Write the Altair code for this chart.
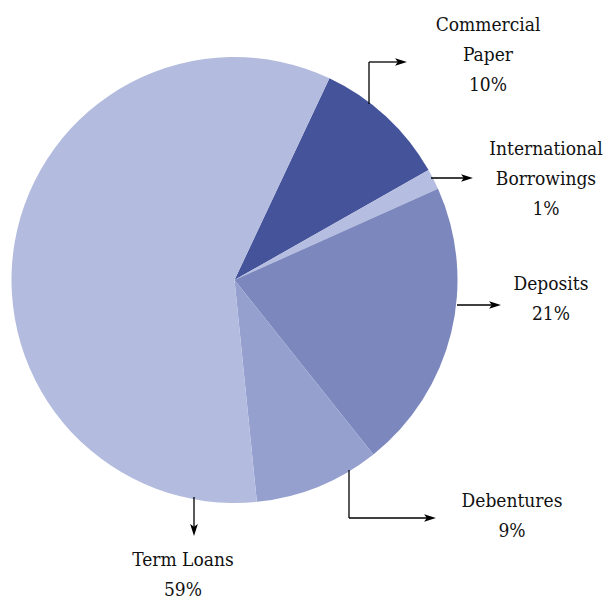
import altair as alt
import pandas as pd
import math

# ---- data ----
categories = ["Commercial Paper", "International Borrowings", "Deposits", "Debentures", "Term Loans"]
shares = [9.8, 1.5, 21.0, 9.1, 58.6]
pct_labels = ["10%", "1%", "21%", "9%", "59%"]
label_lines = ["Commercial\nPaper", "International\nBorrowings", "Deposits", "Debentures", "Term Loans"]
colors = ["#45549a", "#b5bde0", "#7b87bd", "#95a0cf", "#b3bbdf"]

# ---- layout (annotation placement, image pixel coords) ----
label_x = [488, 546, 551, 512, 183]
label_y = [31, 155, 290, 507, 566]
segments = [  # x, y, x2, y2
    (369, 104, 369, 62), (369, 62, 398, 62),
    (431, 178, 464, 178),
    (457, 305, 492, 305),
    (349, 470, 349, 518), (349, 518, 427, 518),
    (194, 497, 194, 527),
]
heads = [(401, 62, 0), (467, 178, 0), (495, 305, 0), (430, 518, 0), (194, 530, 90)]

W, H = 597, 592
CX, CY, R = 234.5, 280, 223
offset = math.radians(25.2)

pie_df = pd.DataFrame({"cat": categories, "share": shares, "order": range(len(categories))})
lab_df = pd.DataFrame({
    "text": [l + "\n" + p for l, p in zip(label_lines, pct_labels)],
    "x": label_x, "y": label_y,
})
seg_df = pd.DataFrame(segments, columns=["x", "y", "x2", "y2"])
head_df = pd.DataFrame(heads, columns=["x", "y", "ang"])

xs = alt.Scale(domain=[8, 8 + W], range=[0, W])
ys = alt.Scale(domain=[8, 8 + H], range=[0, H])

pie = alt.Chart(pie_df).mark_arc(radius=R).encode(
    theta=alt.Theta("share:Q", stack=True, scale=alt.Scale(range=[offset, offset + 2 * math.pi])),
    order=alt.Order("order:Q"),
    color=alt.Color("cat:N", scale=alt.Scale(domain=categories, range=colors), legend=None),
    x=alt.value(CX - 8),
    y=alt.value(CY - 8),
)

rules = alt.Chart(seg_df).mark_rule(color="black", strokeWidth=1.3).encode(
    x=alt.X("x:Q", scale=xs, axis=None),
    y=alt.Y("y:Q", scale=ys, axis=None),
    x2="x2:Q", y2="y2:Q",
)

arrow_path = "M -1 -0.65 L 1 0 L -1 0.65 L -0.55 0 Z"
arrows = alt.Chart(head_df).mark_point(
    shape=arrow_path, filled=True, color="black", opacity=1, size=140
).encode(
    x=alt.X("x:Q", scale=xs, axis=None),
    y=alt.Y("y:Q", scale=ys, axis=None),
    angle=alt.Angle("ang:Q", scale=None),
)

labels = alt.Chart(lab_df).mark_text(
    font="DejaVu Serif Condensed", fontSize=19, lineHeight=30, align="center",
    baseline="alphabetic", color="#111111", lineBreak="\n"
).encode(
    x=alt.X("x:Q", scale=xs, axis=None),
    y=alt.Y("y:Q", scale=ys, axis=None),
    text="text:N",
)

chart = alt.layer(pie, rules, arrows, labels).properties(
    width=W, height=H,
    autosize=alt.AutoSizeParams(type="none"),
    padding=0,
).configure_view(stroke=None)

chart.save("out.html", embed_options={"renderer": "svg", "actions": False})
